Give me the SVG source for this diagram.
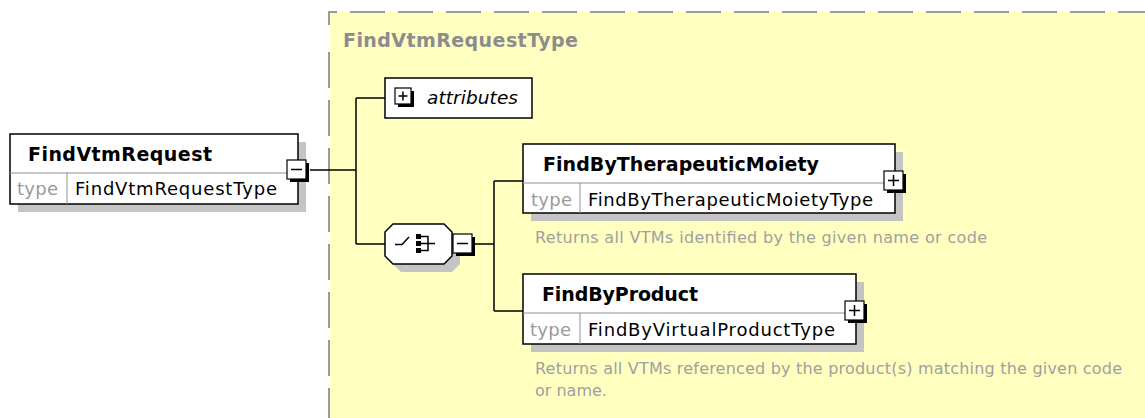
<svg xmlns="http://www.w3.org/2000/svg" xmlns:xlink="http://www.w3.org/1999/xlink" width="1145" height="418" viewBox="0 0 1145 418">
<style>
.t{font-family:"DejaVu Sans","Liberation Sans",sans-serif}
.title{font-size:19px;font-weight:bold;fill:#000}
.typ{font-size:18px;fill:#000}
.lbl{font-size:18px;fill:#9a9a9a}
.desc{font-size:16px;fill:#a0a0a0}
.hdr{font-size:19px;font-weight:bold;fill:#8c8c8c}
.box{fill:#fff;stroke:#000;stroke-width:1.5}
.shadow{fill:#c4c4c4}
.sep{stroke:#909090;stroke-width:1}
.con{fill:none;stroke:#000;stroke-width:1.5}
.btn{fill:#fff;stroke:#000;stroke-width:1.2}
.sign{stroke:#000;stroke-width:1.5;fill:none}
.dash{stroke:#9a9a9a;stroke-width:2;fill:none}
</style>
<defs>
  <g id="minus">
    <rect x="3" y="3" width="19" height="19" fill="#000"/>
    <rect class="btn" x="0" y="0" width="19" height="19"/>
    <path class="sign" d="M4,9.5 H15"/>
  </g>
  <g id="plus">
    <rect x="3" y="3" width="19" height="19" fill="#000"/>
    <rect class="btn" x="0" y="0" width="19" height="19"/>
    <path class="sign" d="M4,9.5 H15 M9.5,4 V15"/>
  </g>
  <g id="plusSmall">
    <rect x="3" y="3" width="16" height="16" fill="#000"/>
    <rect class="btn" x="0" y="0" width="16" height="16"/>
    <path class="sign" d="M3.5,8 H12.5 M8,3.5 V12.5"/>
  </g>
</defs>

<g id="FindVtmRequestType">
  <rect x="330" y="12" width="815" height="406" fill="#ffffc0"/>
  <line class="dash" x1="329" y1="12" x2="1145" y2="12" stroke-dasharray="35 13" stroke-dashoffset="27"/>
  <line class="dash" x1="329" y1="11" x2="329" y2="25"/>
  <line class="dash" x1="329" y1="52" x2="329" y2="418" stroke-dasharray="36 12"/>
  <text class="t hdr" x="343" y="47" textLength="235">FindVtmRequestType</text>
</g>

<g id="connectors" class="con">
  <path d="M310,170 H356 M356,98 V244 M356,98 H385 M356,244 H385"/>
  <path d="M475,244 H494 M494,181 V311 M494,181 H523 M494,311 H523"/>
</g>

<g id="FindVtmRequest">
  <rect class="shadow" x="18" y="142" width="288" height="70"/>
  <rect class="box" x="10" y="134" width="288" height="70"/>
  <line class="sep" x1="10" y1="173" x2="298" y2="173"/>
  <line class="sep" x1="67" y1="173" x2="67" y2="204"/>
  <text class="t title" x="28" y="161" textLength="184">FindVtmRequest</text>
  <text class="t lbl" x="17" y="195" textLength="41">type</text>
  <text class="t typ" x="75" y="195" textLength="202">FindVtmRequestType</text>
  <use xlink:href="#minus" href="#minus" x="287" y="160"/>
</g>

<g id="attributes">
  <rect class="box" x="385" y="78" width="147" height="40"/>
  <use xlink:href="#plusSmall" href="#plusSmall" x="395" y="88"/>
  <text class="t" font-size="18.5" font-style="italic" x="427" y="104" textLength="91">attributes</text>
</g>

<g id="choice">
  <polygon class="shadow" transform="translate(8,8)" points="393,224 444,224 452,232 452,256 444,264 393,264 385,256 385,232"/>
  <polygon class="box" points="393,224 444,224 452,232 452,256 444,264 393,264 385,256 385,232"/>
  <path class="sign" d="M395,244.5 H402 L409,237"/>
  <rect x="416" y="234" width="5" height="5" fill="#000"/>
  <rect x="416" y="241" width="5" height="5" fill="#000"/>
  <rect x="416" y="248" width="5" height="5" fill="#000"/>
  <path class="sign" d="M421,236.5 H428 V250.5 H421 M421,243.5 H435"/>
  <use xlink:href="#minus" href="#minus" x="453" y="234"/>
</g>

<g id="FindByTherapeuticMoiety">
  <rect class="shadow" x="531" y="152" width="372" height="69"/>
  <rect class="box" x="523" y="144" width="372" height="69"/>
  <line class="sep" x1="523" y1="183" x2="895" y2="183"/>
  <line class="sep" x1="580" y1="183" x2="580" y2="213"/>
  <text class="t title" x="543" y="171" textLength="276">FindByTherapeuticMoiety</text>
  <text class="t lbl" x="531" y="206" textLength="41">type</text>
  <text class="t typ" x="588" y="206" textLength="285">FindByTherapeuticMoietyType</text>
  <use xlink:href="#plus" href="#plus" x="884" y="171"/>
  <text class="t desc" x="535" y="243" textLength="452">Returns all VTMs identified by the given name or code</text>
</g>

<g id="FindByProduct">
  <rect class="shadow" x="531" y="282" width="333" height="70"/>
  <rect class="box" x="523" y="274" width="333" height="70"/>
  <line class="sep" x1="523" y1="313" x2="856" y2="313"/>
  <line class="sep" x1="580" y1="313" x2="580" y2="344"/>
  <text class="t title" x="542" y="301" textLength="156">FindByProduct</text>
  <text class="t lbl" x="530" y="336" textLength="41">type</text>
  <text class="t typ" x="588" y="336" textLength="247">FindByVirtualProductType</text>
  <use xlink:href="#plus" href="#plus" x="845" y="301"/>
  <text class="t desc" x="535" y="374" textLength="587">Returns all VTMs referenced by the product(s) matching the given code</text>
  <text class="t desc" x="535" y="396">or name.</text>
</g>
</svg>
